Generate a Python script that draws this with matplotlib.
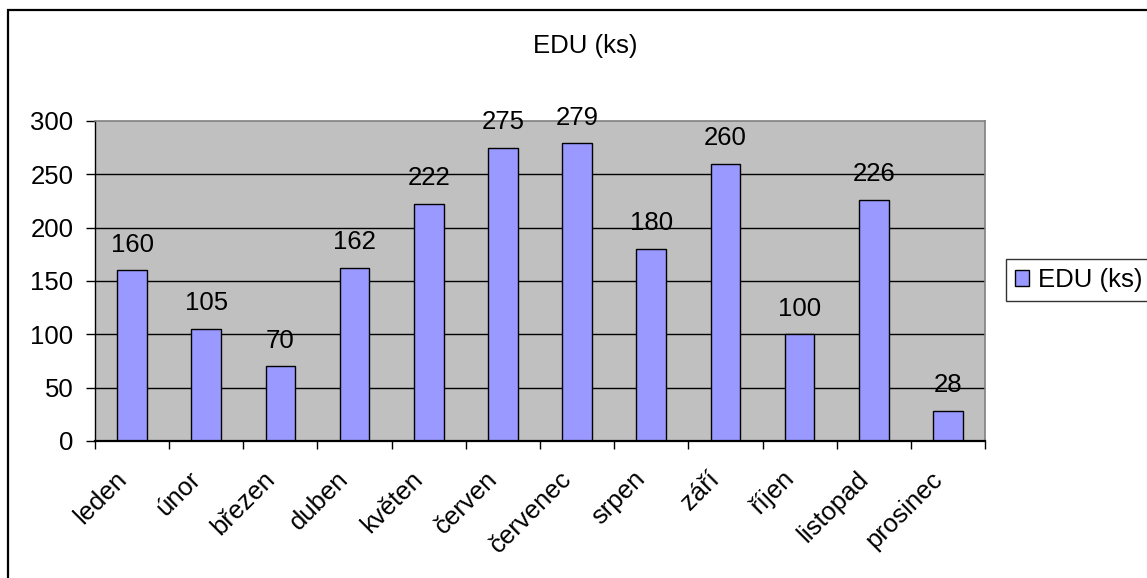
import matplotlib
matplotlib.use("Agg")
import matplotlib.pyplot as plt
from matplotlib.patches import Rectangle, Patch
from matplotlib.transforms import ScaledTranslation
import numpy as np

plt.rcParams['font.family'] = ['Liberation Sans', 'DejaVu Sans']

months = ['leden', 'únor', 'březen', 'duben', 'květen', 'červen',
          'červenec', 'srpen', 'září', 'říjen', 'listopad', 'prosinec']
counts = [160, 105, 70, 162, 222, 275, 279, 180, 260, 100, 226, 28]
y_ticks = [0, 50, 100, 150, 200, 250, 300]
series_name = 'EDU (ks)'

W, H = 1147, 578
fig = plt.figure(figsize=(W / 100, H / 100), dpi=100)
fig.patch.set_facecolor('white')

# chart-area border (continues past the right and bottom edges)
fig.patches.append(Rectangle((8 / W, -0.1), 1.2, 1 - 10 / H + 0.1,
                             transform=fig.transFigure, fill=False,
                             edgecolor='black', linewidth=1.6, zorder=0))

left, right, top, bottom = 95, 985, 121, 441
ax = fig.add_axes([left / W, 1 - bottom / H, (right - left) / W, (bottom - top) / H])
ax.set_facecolor('#C0C0C0')

fs = 18.5
x = np.arange(len(months))
ax.set_xlim(-0.5, len(months) - 0.5)
ax.set_ylim(0, 300)

for v in y_ticks[1:-1]:
    ax.axhline(v, color='black', linewidth=1.0, zorder=1)

bars = ax.bar(x, counts, width=0.4, color='#9999FF', edgecolor='black',
              linewidth=1.0, zorder=2, label=series_name)

for xi, v in zip(x, counts):
    ax.annotate(str(v), (xi, v), xytext=(0, 13.5), textcoords='offset points',
                ha='center', va='baseline', fontsize=fs, zorder=3,
                annotation_clip=False)

ax.set_yticks(y_ticks)
ax.set_yticklabels([str(t) for t in y_ticks], fontsize=fs)
ax.tick_params(axis='y', direction='out', length=6.5, width=1.0, pad=9)

ax.set_xticks(x)
ax.set_xticklabels(months, fontsize=fs, rotation=45, ha='right', va='top',
                   rotation_mode='anchor')
ax.tick_params(axis='x', which='major', length=0, pad=10)
shift = ScaledTranslation(-18 / 100, -12 / 100, fig.dpi_scale_trans)
for lbl in ax.get_xticklabels():
    lbl.set_transform(lbl.get_transform() + shift)
ax.set_xticks(np.arange(-0.5, len(months), 1.0), minor=True)
ax.tick_params(axis='x', which='minor', direction='out', length=6, width=1.0)

ax.spines['left'].set_color('black')
ax.spines['left'].set_linewidth(1.0)
ax.spines['bottom'].set_color('black')
ax.spines['bottom'].set_linewidth(1.6)
ax.spines['top'].set_color('#808080')
ax.spines['top'].set_linewidth(1.2)
ax.spines['right'].set_color('#808080')
ax.spines['right'].set_linewidth(1.2)
ax.spines['bottom'].set_zorder(4)

fig.text(585 / W, 1 - 46 / H, series_name, ha='center', va='center', fontsize=fs)

handle = Patch(facecolor='#9999FF', edgecolor='black', linewidth=1.0)
leg = fig.legend([handle], [series_name], loc='center left',
                 bbox_to_anchor=(1006 / W, 1 - 280 / H), fontsize=fs,
                 frameon=True, fancybox=False, edgecolor='black',
                 handlelength=0.55, handleheight=0.55, handletextpad=0.35,
                 borderpad=0.35, borderaxespad=0)
leg.get_frame().set_linewidth(1.0)

fig.savefig('out.png', dpi=100, facecolor='white')
